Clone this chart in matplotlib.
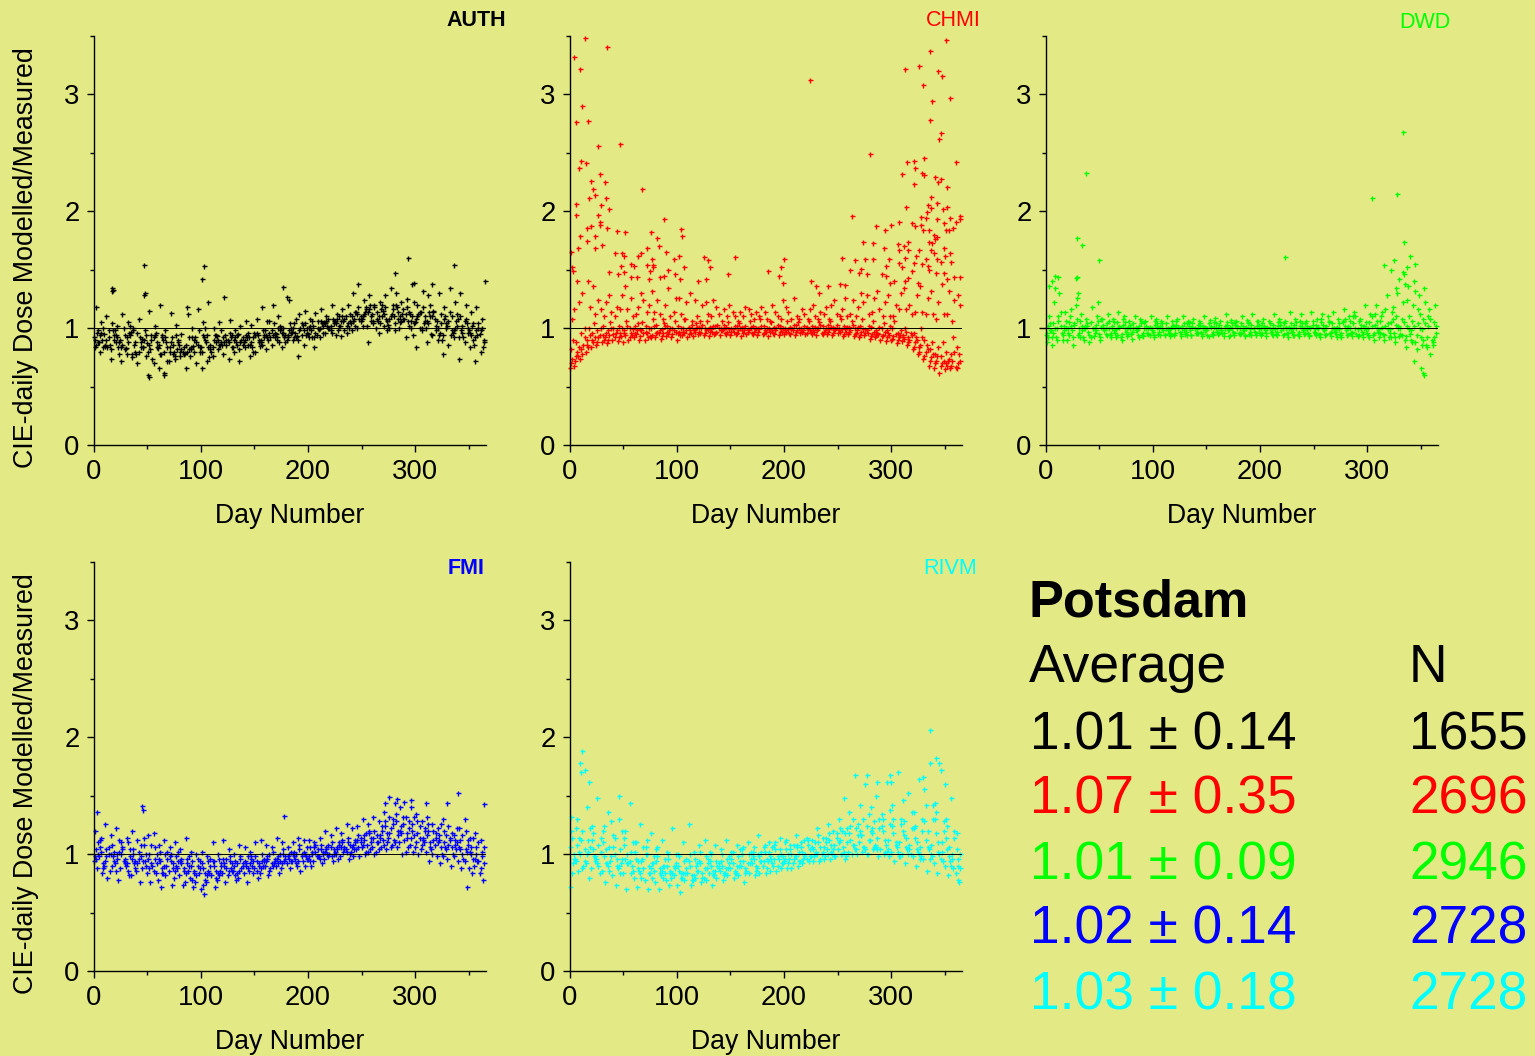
import matplotlib
matplotlib.use("Agg")
import matplotlib.pyplot as plt

plt.rcParams['font.family'] = ['Liberation Sans', 'DejaVu Sans']

BG = '#e3e985'
W, H = 1535, 1056

# the day columns that the value rows below were read at
DAYS_A = [0,5,10,15,20,25,30,35,40,45,50,55,60,65,70,75,80,85,90,95,100,105,110,115,120,125,130,135,140,145,150,155,160,165,170,175,180,185,190,195,200,205,210,215,220,225,230,235,240,245,250,255,260,265,270,275,280,285,290,295,300,305,310,315,320,325,330,335,340,345,350,355,360]
DAYS_B = [2,7,12,17,22,27,32,37,42,47,52,57,62,67,72,77,82,87,92,97,102,107,112,117,122,127,132,137,142,147,152,157,162,167,172,177,182,187,192,197,202,207,212,217,222,227,232,237,242,247,252,257,262,267,272,277,282,287,292,297,302,307,312,317,322,327,332,337,342,347,352,357,362]
DAYS_C = [1,6,11,16,21,26,31,36,41,46,51,56,61,66,71,76,81,86,91,96,101,106,111,116,121,126,131,136,141,146,151,156,161,166,171,176,181,186,191,196,201,206,211,216,221,226,231,236,241,246,251,256,261,266,271,276,281,286,291,296,301,306,311,316,321,326,331,336,341,346,351,356,361]
DAYS_D = [3,8,13,18,23,28,33,38,43,48,53,58,63,68,73,78,83,88,93,98,103,108,113,118,123,128,133,138,143,148,153,158,163,168,173,178,183,188,193,198,203,208,213,218,223,228,233,238,243,248,253,258,263,268,273,278,283,288,293,298,303,308,313,318,323,328,333,338,343,348,353,358,363]
DAYS_E = [4,9,14,19,24,29,34,39,44,49,54,59,64,69,74,79,84,89,94,99,104,109,114,119,124,129,134,139,144,149,154,159,164,169,174,179,184,189,194,199,204,209,214,219,224,229,234,239,244,249,254,259,264,269,274,279,284,289,294,299,304,309,314,319,324,329,334,339,344,349,354,359,364]
DAY_COLUMNS = [DAYS_A, DAYS_B, DAYS_C, DAYS_D, DAYS_E, DAYS_C, DAYS_E, DAYS_B]

AUTH_ROWS = [
    [.92,.88,.95,.86,.98,.90,.83,.97,.78,.91,.87,.74,.83,.90,.72,.80,.86,.79,.76,.92,
     .84,.88,.80,.93,.86,.90,.84,.95,.88,.92,.96,.85,.98,.92,.95,1.00,.90,.97,.93,1.03,
     .95,1.02,.99,1.05,1.00,1.06,1.02,1.10,1.04,1.14,1.08,1.02,1.12,1.06,1.15,1.03,1.10,1.00,1.08,1.12,
     1.05,1.14,1.00,.95,1.06,.90,1.02,.96,1.08,.92,.98,.86,.95],
    [1.18,1.05,1.10,1.32,1.02,1.12,1.05,.98,1.08,1.28,1.15,1.02,1.20,.98,1.13,1.03,.95,1.18,1.00,1.16,
     1.05,1.22,1.00,1.05,1.27,1.07,.98,1.02,1.06,1.03,1.08,1.18,1.06,1.20,1.10,1.00,1.24,1.04,1.12,1.15,
     1.08,1.13,1.16,1.10,1.20,1.12,1.16,1.20,1.30,1.38,1.24,1.28,1.18,1.22,1.28,1.34,1.30,1.22,1.25,1.38,
     1.20,1.32,1.28,1.15,1.30,1.18,1.34,1.22,1.30,1.20,1.14,1.18,1.08],
    [.84,.80,.85,.74,.88,.72,.78,.75,.70,.84,.60,.70,.66,.62,.80,.74,.76,.66,.82,.70,
     .66,.72,.76,.82,.78,.74,.80,.72,.84,.76,.80,.88,.82,.86,.90,.84,.92,.90,.76,.86,
     .92,.84,.92,.96,.98,.94,.93,.96,.98,1.00,1.02,.88,1.04,.96,1.02,1.00,.98,1.05,.92,1.00,
     .84,.98,.88,.94,.90,.78,.86,.92,.74,.88,.84,.72,.80],
    [.96,.90,.84,.98,.84,1.00,.96,.86,.92,.98,.82,.96,.78,.88,.92,.82,.80,1.12,.85,.98,
     .92,.75,.94,.86,.94,.92,.88,.90,.92,.84,.94,.98,.90,1.04,.88,.92,1.04,.96,1.00,.94,
     .98,.94,1.04,1.02,1.08,.98,1.06,1.00,1.08,1.08,1.14,1.20,1.00,1.16,1.08,1.12,1.18,1.12,1.06,.94,
     1.12,1.04,1.14,1.08,.96,1.10,.94,1.06,.98,1.04,1.02,.94,.84],
    [.88,1.00,.92,.90,.78,.94,1.02,.80,.88,.76,.94,.88,.92,.72,.86,.90,.84,.92,.80,.84,
     1.00,.82,.88,.98,.90,.84,.94,.86,.96,.80,.90,.94,1.06,.96,1.02,.88,.96,1.08,.94,1.00,
     1.06,1.00,.96,1.08,1.04,1.10,.98,1.12,1.14,1.06,1.18,1.10,1.08,1.20,.98,1.20,1.08,1.16,1.02,1.22,
     1.00,1.10,1.20,1.02,1.12,1.00,1.10,1.02,.96,1.00,.90,1.04,.90],
    [.90,.94,.86,.82,.94,.84,.92,.78,.96,.84,.80,.92,.86,.80,.84,.76,.80,.86,.84,.88,
     .80,.94,.84,.90,.92,.88,.90,.82,.90,.86,.94,.90,.94,.98,.92,.96,.94,1.00,.90,.98,
     1.00,.92,1.00,1.04,1.02,1.04,1.06,1.02,1.10,1.12,1.10,1.14,1.06,1.10,1.12,1.08,1.04,1.10,1.12,1.06,
     1.08,1.00,1.06,1.10,1.00,.94,1.06,.98,.92,1.06,.96,.92,.98],
    [.98,.84,.98,.94,.88,.82,.94,.88,.84,.94,.90,.84,.94,.84,.78,.88,.78,.82,.90,.80,
     .90,.86,.94,.88,.86,.94,.86,.92,.86,.92,.88,.92,.96,.92,.98,.94,1.00,.92,1.04,.96,
     .92,1.06,1.02,1.00,1.06,1.02,1.08,1.06,1.02,1.10,1.16,1.06,1.14,1.10,1.06,1.16,1.14,1.08,1.14,1.04,
     1.14,1.06,1.10,.98,1.04,1.04,.98,1.12,1.02,.96,1.04,1.00,.88],
    [.86,.96,.90,1.04,.92,.86,.88,1.00,.80,.90,.86,.94,.78,.92,.88,.94,.82,.80,.92,.86,
     .94,.84,.90,.86,.88,.96,.92,.88,.94,.88,.96,.86,.92,.94,1.00,.96,.98,.92,.98,1.04,
     1.02,.96,1.06,1.06,.96,1.08,1.10,1.04,1.06,1.18,1.12,1.16,1.20,1.04,1.18,1.10,1.20,1.06,1.18,1.10,
     1.10,1.18,1.04,1.14,.94,1.08,1.14,1.00,1.10,1.08,.94,.98,1.00],
]
AUTH_EXTRA_DAY = [47,103,101,177,293,336,281,365,52,66,180,299,316,17,48,18]
AUTH_EXTRA_VAL = [1.54,1.53,1.42,1.35,1.60,1.54,1.47,1.40,.58,.60,1.27,1.39,1.38,1.34,1.30,1.33]

CHMI_ROWS = [
    [.66,.72,.74,.80,.84,.86,.88,.87,.90,.89,.88,.90,.92,.90,.90,.93,.92,.91,.93,.92,
     .90,.94,.92,.93,.95,.94,.93,.95,.94,.96,.94,.95,.93,.95,.96,.94,.95,.93,.96,.94,
     .95,.96,.94,.96,.95,.97,.94,.96,.95,.94,.96,.93,.95,.93,.92,.94,.91,.92,.90,.89,
     .90,.87,.89,.86,.82,.78,.74,.68,.66,.62,.65,.66,.67],
    [.74,.80,.78,.84,.88,.92,.90,.94,.92,.96,.94,.96,.95,.98,.96,.94,.97,.96,.95,.98,
     .97,.96,.98,.97,.96,.98,.99,.97,.98,.97,.99,.98,.96,.98,.97,.99,.98,.97,.98,.99,
     .97,.99,.98,.97,.99,.98,1.00,.97,.99,.98,.97,.99,.98,.96,.97,.98,.95,.96,.94,.96,
     .93,.92,.91,.90,.88,.86,.80,.75,.72,.70,.68,.72,.70],
    [.82,.88,.96,.90,.96,.98,1.02,.98,1.00,1.02,.98,1.00,1.02,.99,1.02,1.00,1.03,.99,1.02,1.00,
     1.02,1.00,1.01,.99,1.01,1.00,1.01,1.02,1.00,1.01,1.00,1.02,1.01,.99,1.02,1.00,1.02,1.00,1.01,1.02,
     1.00,1.01,1.03,1.00,1.01,1.02,1.00,1.02,1.03,1.01,1.00,1.02,1.01,1.00,1.02,.99,1.01,.98,1.00,.98,
     1.00,.96,.94,.92,.96,.84,.90,.82,.78,.76,.80,.78,.84],
    [.90,.76,.86,1.00,1.04,.94,.92,1.05,.96,.93,1.06,.94,.98,1.05,.92,1.08,.96,1.04,.98,1.06,
     .94,1.08,.96,1.04,1.00,1.06,.97,1.03,.99,1.05,.97,1.04,.98,1.06,.99,1.08,.97,1.05,1.00,.97,
     1.06,.98,1.05,.98,1.06,.97,1.05,.98,1.06,.99,1.08,.97,1.06,.98,1.08,.96,1.06,.95,1.04,.94,
     1.06,.94,1.00,.96,.92,1.00,.86,.88,.76,.88,.72,.92,.78],
    [1.16,1.22,1.00,1.18,1.12,1.16,1.22,1.14,1.18,1.28,1.16,1.10,1.18,1.24,1.20,1.14,1.12,1.20,1.10,1.26,
     1.12,1.22,1.06,1.10,1.20,1.12,1.24,1.12,1.16,1.20,1.10,1.14,1.18,1.12,1.14,1.18,1.08,1.20,1.10,1.24,
     1.14,1.26,1.08,1.12,1.16,1.10,1.14,1.18,1.20,1.12,1.16,1.10,1.24,1.18,1.22,1.12,1.26,1.16,1.22,1.10,
     1.20,1.30,1.16,1.12,1.28,1.14,1.26,1.12,1.22,1.12,1.32,1.24,1.20],
    [.70,.76,.82,.86,.90,.88,.94,.90,.95,.92,.96,.92,.96,.93,.97,.92,.96,.93,.97,.95,
     .96,.97,.95,.98,.97,.96,.97,.96,.98,.95,.97,.96,.98,.97,.95,.97,.96,.99,.95,.97,
     .98,.95,.97,.98,.96,.95,.98,.95,.97,.96,.98,.95,.97,.95,.94,.96,.93,.94,.93,.92,
     .91,.90,.92,.88,.84,.80,.76,.72,.70,.68,.70,.68,.66],
    [.68,.84,.92,.94,.92,1.00,.96,1.00,.98,1.00,1.02,.99,1.04,.96,1.00,1.02,.98,1.02,1.00,.97,
     1.00,.98,1.03,1.01,1.03,.99,1.02,1.00,1.03,.99,1.02,1.00,1.02,1.01,1.00,1.02,1.00,.98,1.03,1.00,
     .99,1.03,1.00,1.02,.98,1.01,1.03,1.00,1.01,1.03,.99,1.01,1.03,1.01,.99,1.02,.97,1.01,.97,1.02,
     .95,.98,.97,.94,.90,.92,.82,.78,.84,.72,.74,.80,.72],
    [1.08,1.40,1.30,1.40,1.36,1.24,1.10,1.28,1.10,1.16,1.36,1.26,1.12,1.30,1.14,1.32,1.24,1.08,1.34,1.14,
     1.26,1.08,1.30,1.24,1.06,1.22,1.10,1.18,1.06,1.10,1.14,1.06,1.10,1.16,1.08,1.10,1.14,1.06,1.14,1.08,
     1.18,1.08,1.10,1.16,1.08,1.20,1.08,1.12,1.08,1.24,1.10,1.26,1.12,1.10,1.30,1.28,1.14,1.32,1.10,1.28,
     1.10,1.16,1.34,1.20,1.14,1.36,1.12,1.32,1.08,1.38,1.12,1.06,1.28],
]
CHMI_EXTRA_DAY = [14,4,10,35,12,6,17,27,47,11,15,9,28,33,20,22,24,18,34,68,6,29,37,6,27,28,28,88,16,20,35,44,52,76,104,105,82,10,24,16,83,72,30,8,24,1,42,49,67,64,51,90,102,97,77,154,125,129,200,197,185,195,199,148,131,107,57,72,78,78,60,48,2,3,37,75,92,88,98,45,51,57,63,74,84,103,127,120,
    351,336,313,326,344,347,224,330,355,338,336,346,345,280,331,321,315,360,310,329,331,322,341,346,344,321,352,337,343,314,334,337,348,352,333,263,328,332,355,364,364,360,343,307,319,300,286,322,328,294,330,335,349,351,354,358,274,283,306,316,312,307,293,316,326,335,338,340,343,341,349,337,340,355,350,266,276,283,298,313,323,307,321,329,332,356,343,346,254,262,272,295,310,319,334,335,349,342,352,364,359,291,295,270,277,313,316,299,303,325,225,230,241,233,252,257]
CHMI_EXTRA_VAL = [3.48,3.32,3.22,3.41,2.90,2.76,2.77,2.56,2.58,2.43,2.41,2.37,2.32,2.25,2.26,2.19,2.14,2.11,2.11,2.19,2.06,2.05,2.02,1.97,1.97,1.91,1.88,1.93,1.86,1.87,1.86,1.83,1.82,1.82,1.85,1.79,1.77,1.79,1.79,1.75,1.70,1.69,1.71,1.69,1.69,1.65,1.64,1.64,1.64,1.62,1.62,1.65,1.62,1.59,1.59,1.61,1.61,1.58,1.59,1.52,1.49,1.45,1.39,1.46,1.52,1.52,1.55,1.54,1.54,1.52,1.53,1.53,1.52,1.49,1.48,1.49,1.50,1.45,1.46,1.46,1.48,1.44,1.44,1.42,1.44,1.42,1.42,1.40,
    3.47,3.37,3.22,3.24,3.20,3.16,3.12,3.08,2.97,2.94,2.78,2.67,2.62,2.49,2.46,2.43,2.42,2.42,2.32,2.33,2.31,2.37,2.29,2.28,2.25,2.23,2.21,2.12,2.07,2.04,2.05,2.03,2.02,2.04,1.99,1.96,1.95,1.94,1.94,1.96,1.93,1.91,1.93,1.91,1.90,1.88,1.87,1.87,1.88,1.84,1.84,1.84,1.90,1.84,1.84,1.86,1.74,1.73,1.72,1.74,1.70,1.67,1.69,1.67,1.67,1.74,1.73,1.80,1.78,1.76,1.69,1.67,1.64,1.64,1.62,1.58,1.59,1.59,1.59,1.60,1.62,1.56,1.56,1.55,1.59,1.57,1.59,1.57,1.60,1.50,1.51,1.53,1.52,1.49,1.53,1.50,1.47,1.47,1.42,1.44,1.44,1.46,1.45,1.47,1.46,1.40,1.43,1.39,1.40,1.39,1.40,1.36,1.36,1.30,1.38,1.37]

DWD_ROWS = [
    [.94,.98,.92,.96,.90,.98,.94,.92,.97,.93,.95,.98,.94,.96,.92,.97,.95,.98,.94,.96,
     .97,.95,.98,.96,.94,.97,.95,.98,.96,.97,.98,.95,.97,.96,.98,.97,.96,.98,.95,.97,
     .96,.98,.97,.95,.98,.96,.97,.95,.98,.96,.97,.95,.98,.96,.97,.94,.98,.96,.95,.97,
     .96,.94,.97,.95,.92,.96,.93,.90,.95,.88,.92,.86,.90],
    [1.02,1.04,1.06,1.02,1.05,1.03,1.06,1.02,1.05,1.03,1.01,1.04,1.02,1.05,1.03,1.01,1.04,1.02,1.05,1.01,
     1.03,1.02,1.04,1.01,1.03,1.02,1.04,1.01,1.03,1.02,1.04,1.01,1.03,1.02,1.01,1.03,1.04,1.01,1.03,1.02,
     1.04,1.01,1.03,1.02,1.04,1.01,1.03,1.02,1.04,1.01,1.03,1.05,1.02,1.04,1.01,1.05,1.02,1.04,1.06,1.02,
     1.05,1.03,1.06,1.02,1.05,1.03,1.08,1.02,1.06,1.04,1.08,1.02,1.05],
    [.88,.86,1.00,.90,1.00,.86,1.00,1.00,.88,1.00,.90,1.00,.92,.99,.90,1.00,.91,1.00,.93,1.00,
     .92,1.00,.94,.99,1.00,.93,1.00,.94,.99,.93,1.00,.94,1.00,.93,.99,.94,1.00,.93,.99,.94,
     1.00,.93,.99,.94,1.00,.92,1.00,.93,1.00,.94,.99,.92,1.00,.93,.99,.92,1.00,.93,.99,.92,
     1.00,.90,.99,.90,.99,.88,1.00,.84,.98,.82,.99,.84,.86],
    [1.10,1.22,1.30,1.14,1.10,1.20,1.12,1.08,1.18,1.10,1.08,1.12,1.08,1.14,1.10,1.06,1.10,1.08,1.06,1.10,
     1.08,1.06,1.10,1.06,1.08,1.10,1.06,1.08,1.06,1.10,1.07,1.09,1.06,1.12,1.07,1.06,1.10,1.07,1.12,1.06,
     1.08,1.06,1.12,1.08,1.06,1.14,1.08,1.12,1.06,1.14,1.08,1.12,1.10,1.14,1.08,1.16,1.10,1.14,1.08,1.20,
     1.12,1.20,1.10,1.28,1.14,1.30,1.22,1.36,1.20,1.28,1.34,1.16,1.20],
    [.98,1.34,1.14,1.00,1.16,1.26,.98,1.02,1.00,1.22,1.00,1.06,.98,1.02,1.05,1.00,.98,1.06,1.00,.98,
     1.04,1.00,.98,1.02,1.00,.98,1.05,1.00,1.02,.98,1.01,1.00,.98,1.05,1.00,1.02,.98,1.05,1.00,.99,
     1.02,1.00,.99,1.05,1.00,.99,1.05,1.00,.99,1.06,1.00,.99,1.06,1.00,.99,1.08,1.00,1.10,1.00,.99,
     1.10,1.00,1.14,.99,1.18,1.00,1.46,.99,1.40,1.00,1.22,.78,.96],
    [.96,.92,.90,.94,.96,.92,.96,.90,.94,.96,.92,.95,.96,.92,.95,.93,.97,.94,.96,.95,
     .94,.97,.95,.93,.96,.95,.97,.94,.96,.95,.94,.97,.95,.96,.93,.96,.95,.94,.97,.96,
     .94,.96,.95,.97,.94,.96,.94,.97,.95,.93,.96,.95,.94,.97,.95,.96,.94,.97,.93,.95,
     .94,.96,.92,.94,.96,.92,.95,.93,.90,.94,.86,.92,.88],
    [1.04,1.00,1.02,1.06,1.02,1.08,1.02,1.04,1.00,1.06,1.03,1.00,1.05,1.01,1.00,1.03,1.01,1.04,1.02,1.00,
     1.01,1.04,1.00,1.03,1.01,1.04,1.02,1.00,1.04,1.01,1.02,1.04,1.00,1.03,1.04,1.00,1.02,1.04,1.00,1.03,
     1.01,1.04,1.00,1.03,1.01,1.04,1.00,1.04,1.02,1.03,1.01,1.03,1.05,1.00,1.04,1.02,1.06,1.00,1.03,1.05,
     1.02,1.06,1.01,1.04,1.08,1.02,1.05,1.10,1.02,1.12,1.04,1.08,1.02],
    [.92,.96,1.10,.98,.94,1.04,.92,1.00,.92,.98,1.08,.94,1.00,.94,1.08,.95,1.00,.92,1.00,.94,
     1.06,.94,1.00,.95,1.06,1.00,.94,1.04,.96,1.00,.93,1.05,.96,1.00,.94,1.05,.96,1.00,.94,1.06,
     .96,1.00,.94,1.05,.95,1.00,.94,1.06,.96,1.00,.94,1.08,.95,1.00,.92,1.06,.95,1.10,.94,1.00,
     .92,1.12,.96,1.16,.92,1.10,.94,1.24,.88,1.16,.90,1.10,.92],
]
DWD_EXTRA_DAY = [38,333,328,304,223,29,34,334,29,28,50,6,9,12,3,30,325,340,337,333,345,316,322,330,345,335,327,350,344,352,353]
DWD_EXTRA_VAL = [2.33,2.68,2.15,2.11,1.61,1.77,1.71,1.74,1.44,1.43,1.58,1.40,1.45,1.44,1.36,1.30,1.58,1.62,1.52,1.48,1.55,1.54,1.50,1.42,1.32,1.38,1.34,.66,.72,.62,.60]

FMI_ROWS = [
    [.94,.98,.90,.86,.92,.88,.90,.82,.86,.88,.84,.90,.78,.84,.86,.80,.82,.76,.80,.76,
     .70,.76,.82,.78,.84,.82,.86,.80,.84,.86,.88,.84,.90,.88,.90,.88,.92,.94,.90,.94,
     .96,.94,.98,.96,1.00,1.02,.98,1.04,1.02,1.04,1.06,1.08,1.06,1.10,1.12,1.14,1.12,1.10,1.12,1.08,
     1.06,1.04,1.02,1.04,.98,1.00,.96,1.00,.94,.96,.88,.90,.84],
    [1.04,1.02,.98,1.08,1.00,1.04,1.10,1.00,1.02,1.08,1.00,.96,1.02,1.00,.94,.98,.92,.96,.94,.90,
     .88,.94,.90,.96,.92,.98,.94,.96,.92,.98,.94,1.00,.96,1.02,.98,1.04,1.00,1.02,1.04,1.00,
     1.06,1.02,1.08,1.04,1.10,1.06,1.10,1.14,1.08,1.16,1.12,1.18,1.20,1.16,1.24,1.22,1.28,1.24,1.18,1.26,
     1.18,1.14,1.20,1.12,1.16,1.10,1.14,1.08,1.12,1.04,1.06,1.00,1.02],
    [1.20,1.12,1.26,1.16,1.22,1.10,1.14,1.20,1.12,1.38,1.16,1.18,1.08,1.12,1.06,1.10,1.04,1.14,1.02,1.00,
     1.02,.98,1.10,1.00,1.12,1.04,1.00,1.08,1.06,1.02,1.10,1.12,1.08,1.06,1.14,1.10,1.06,1.10,1.14,1.12,
     1.12,1.10,1.14,1.20,1.16,1.22,1.18,1.26,1.22,1.24,1.30,1.26,1.32,1.28,1.36,1.32,1.44,1.40,1.32,1.40,
     1.34,1.28,1.32,1.26,1.22,1.30,1.24,1.16,1.22,1.30,1.14,1.18,1.12],
    [.88,.84,.80,.98,.78,.94,.82,.92,.76,.94,.76,.84,.72,.90,.74,.88,.74,.86,.72,.84,
     .66,.84,.72,.86,.76,.88,.78,.88,.76,.90,.80,.90,.82,.92,.84,.94,.88,.96,.86,.98,
     .90,.98,.92,1.00,.94,.96,1.02,.96,1.04,.98,1.00,1.04,1.02,1.06,1.04,1.08,1.06,1.00,1.06,1.02,
     1.00,1.10,.94,1.08,.92,1.06,.90,1.04,.88,1.02,.84,.94,.78],
    [1.00,.92,1.06,.94,1.02,.96,.98,.88,1.08,1.00,.92,1.00,.88,.96,.92,.94,.86,.90,.86,.94,
     .78,.90,.86,.92,.88,.92,.84,.92,.88,.94,.92,.96,.86,.96,.94,.98,.94,1.00,.98,1.06,
     1.00,1.04,1.02,1.08,1.00,1.10,1.06,1.08,1.12,1.10,1.18,1.14,1.10,1.20,1.18,1.30,1.20,1.32,1.28,1.16,
     1.24,1.20,1.10,1.18,1.06,1.16,1.06,1.22,1.00,1.12,.96,1.10,.92],
    [.98,1.06,.94,1.00,.86,1.00,.92,.96,.92,.94,.96,.86,.96,.90,.98,.86,.94,.84,.90,.82,
     .92,.82,.94,.84,.96,.86,.90,.86,.94,.92,.98,.88,.94,.92,.96,.92,.98,1.00,.94,1.02,
     .98,1.06,.96,1.02,1.06,1.00,1.06,1.02,1.06,1.12,1.08,1.02,1.14,1.04,1.08,1.18,1.10,1.20,1.02,1.14,
     1.10,1.08,1.16,1.00,1.10,.98,1.08,.98,1.06,.94,1.02,.96,.88],
    [1.10,.88,1.00,1.02,1.12,.92,1.04,.94,.98,.90,1.08,.92,.84,1.02,.88,1.02,.88,.98,.84,.88,
     .84,.96,.80,.90,.96,.86,.92,.90,.98,.84,.90,.94,1.00,.94,1.00,.96,1.02,.92,1.00,.96,
     1.02,.98,1.00,.98,1.04,1.08,1.04,1.00,1.10,1.14,1.02,1.10,1.16,1.24,1.10,1.26,1.16,1.26,1.22,1.32,
     1.14,1.22,1.06,1.14,1.26,1.04,1.18,1.10,1.16,1.08,1.14,.94,1.06],
    [.96,1.14,1.04,.90,.96,1.06,.86,1.04,.96,1.14,.88,1.06,.94,.82,1.00,.90,.96,.92,.78,.96,
     .74,.86,.94,.82,.90,.94,.82,.98,.90,.96,.86,.94,.98,.90,.92,1.00,.96,.98,1.08,.90,
     .94,1.08,1.04,1.06,.98,1.04,1.12,1.10,.98,1.06,1.16,1.20,1.00,1.14,1.28,1.06,1.34,1.18,1.14,1.20,
     1.28,1.12,1.26,1.20,1.12,1.20,1.12,1.12,1.04,1.20,1.00,1.06,.98],
]
FMI_EXTRA_DAY = [3,45,276,283,340,364,178,272,296,310,290,330,348]
FMI_EXTRA_VAL = [1.36,1.41,1.49,1.47,1.52,1.43,1.33,1.44,1.46,1.44,1.45,1.44,.72]

RIVM_ROWS = [
    [1.06,.96,1.00,.92,.88,.96,.86,.92,.82,.88,.84,.92,.80,.86,.78,.84,.76,.82,.78,.80,
     .74,.80,.84,.78,.86,.80,.84,.82,.86,.84,.88,.84,.90,.86,.92,.88,.90,.94,.90,.96,
     .94,.96,.98,.94,1.00,.98,1.02,1.00,1.04,1.00,1.04,1.06,1.02,1.08,1.10,1.06,1.12,1.08,1.04,1.08,
     1.02,1.06,1.00,1.04,.98,1.02,.96,1.04,.92,1.00,.90,.94,.84],
    [1.14,1.08,1.20,1.12,1.04,1.08,.98,1.06,1.00,1.04,.96,1.02,.96,.94,1.00,.92,.98,.90,.96,.90,
     .86,.94,.90,.96,.92,.98,.90,.94,.90,.96,.92,.98,.94,1.00,.96,.98,1.02,.98,1.04,1.00,
     1.04,1.00,1.06,1.02,1.08,1.04,1.10,1.06,1.12,1.08,1.12,1.18,1.12,1.22,1.16,1.24,1.18,1.14,1.20,1.12,
     1.18,1.10,1.16,1.08,1.14,1.06,1.12,1.08,1.18,1.10,1.04,1.00,.96],
    [1.32,1.22,1.70,1.40,1.24,1.48,1.20,1.36,1.16,1.30,1.14,1.44,1.10,1.26,1.06,1.18,1.04,1.12,1.02,1.22,
     1.00,1.10,1.26,1.02,1.08,1.12,1.02,1.08,1.04,1.12,1.02,1.08,1.04,1.10,1.02,1.16,1.06,1.10,1.08,1.14,
     1.10,1.08,1.16,1.10,1.14,1.12,1.22,1.14,1.26,1.20,1.30,1.48,1.36,1.68,1.42,1.60,1.40,1.50,1.34,1.62,
     1.42,1.70,1.46,1.52,1.36,1.64,1.56,1.78,1.44,1.72,1.30,1.48,1.18],
    [.92,.86,.90,.80,.98,.84,.76,.94,.74,.92,.70,.90,.72,.96,.70,.92,.70,.90,.74,.88,
     .68,.84,.74,.90,.76,.88,.74,.90,.78,.88,.80,.90,.76,.92,.82,.94,.84,.96,.86,.92,
     .88,.92,.90,.96,.94,.98,.94,.98,.96,.98,1.00,.98,1.00,1.00,1.02,1.00,1.04,.98,1.00,.98,
     .94,.98,.92,1.00,.90,.98,.86,.98,.84,.94,.82,.88,.76],
    [1.00,1.02,.94,1.06,.98,1.02,.92,.98,.90,.96,.92,.86,.94,.88,.90,.86,.88,.84,.86,.92,
     .80,.88,.82,.86,.84,.92,.86,.88,.84,.92,.86,.94,.88,.96,.90,.94,.96,.92,.98,.92,
     1.00,.96,1.02,.98,1.04,1.00,1.06,1.10,1.08,1.14,1.20,1.10,1.30,1.16,1.30,1.12,1.28,1.22,1.12,1.26,
     1.08,1.30,1.06,1.22,1.04,1.30,1.20,1.42,1.02,1.28,.98,1.14,.88],
    [1.20,.94,1.12,1.00,1.12,.92,1.10,.90,1.06,.90,1.08,.94,1.02,.84,1.00,.88,.94,.86,.90,.84,
     .90,.84,.94,.82,.94,.88,.94,.86,.94,.88,.96,.90,1.00,.92,.98,1.00,.94,1.02,.96,1.04,
     .96,1.04,.98,1.06,.96,1.06,1.00,1.02,1.00,1.04,1.10,1.02,1.18,1.04,1.20,1.04,1.20,1.06,1.24,1.02,
     1.24,1.02,1.20,1.00,1.22,1.00,1.28,.96,1.30,.96,1.14,.90,1.04],
    [.96,1.14,1.04,1.22,.94,1.14,1.04,1.28,.96,1.20,1.00,1.10,.88,1.06,.84,.98,.84,.96,.84,1.00,
     .84,.96,.78,.92,.80,.96,.82,.92,.82,.98,.84,1.04,.84,1.02,.86,1.02,.88,1.06,.90,.98,
     .92,1.08,.94,1.12,.98,1.10,.96,1.14,1.02,1.18,1.00,1.22,1.08,1.26,1.06,1.34,1.06,1.30,1.02,1.38,
     1.10,1.26,1.14,1.36,1.10,1.20,1.06,1.30,1.10,1.20,1.06,1.20,1.00],
    [.84,1.30,.88,1.02,1.18,.90,1.24,.86,1.14,.84,1.20,.84,1.10,.80,1.12,.80,1.06,.80,1.00,.82,
     .98,.78,1.00,.80,1.02,.78,1.00,.80,1.00,.82,1.02,.82,1.06,.84,1.06,.84,1.08,.86,1.10,.88,
     1.12,.88,1.08,.92,1.12,.94,1.16,.96,1.18,.98,1.22,.96,1.24,1.04,1.16,1.00,1.22,1.04,1.30,1.04,
     1.30,.98,1.28,1.04,1.24,.96,1.42,1.00,1.36,1.02,1.24,.96,.90],
]
RIVM_EXTRA_DAY = [12,14,336,342,345,0,299,277,287,300,330,350,362,10,18,46]
RIVM_EXTRA_VAL = [1.88,1.72,2.06,1.82,1.78,.72,1.68,1.68,1.62,1.62,1.66,1.60,.78,1.78,1.62,1.50]

PANELS = [
    ('AUTH', 'black', 'bold', AUTH_ROWS, AUTH_EXTRA_DAY, AUTH_EXTRA_VAL),
    ('CHMI', 'red', 'normal', CHMI_ROWS, CHMI_EXTRA_DAY, CHMI_EXTRA_VAL),
    ('DWD', '#00ff00', 'normal', DWD_ROWS, DWD_EXTRA_DAY, DWD_EXTRA_VAL),
    ('FMI', 'blue', 'bold', FMI_ROWS, FMI_EXTRA_DAY, FMI_EXTRA_VAL),
    ('RIVM', 'cyan', 'normal', RIVM_ROWS, RIVM_EXTRA_DAY, RIVM_EXTRA_VAL),
]
AVERAGES = ['1.01 ± 0.14', '1.07 ± 0.35', '1.01 ± 0.09', '1.02 ± 0.14', '1.03 ± 0.18']
COUNTS = ['1655', '2696', '2946', '2728', '2728']
COLOURS = ['black', 'red', '#00ff00', 'blue', 'cyan']

# pixel boxes of the panels: left, right, bottom, top; label position
BOXES = [(93.5, 486, 445, 36), (569.5, 962, 445, 36), (1045.5, 1438, 445, 36),
         (93.5, 486, 971, 562), (569.5, 962, 971, 562)]
LABEL_POS = [(476, 20), (953, 20), (1425, 22), (466, 569), (950, 569)]


def ftext(x, y, s, **kw):
    # x, y in picture pixels
    kw.setdefault('va', 'center')
    plt.gcf().text(x / W, 1 - y / H, s, **kw)


fig = plt.figure(figsize=(W / 100, H / 100), dpi=100, facecolor=BG)

for i, (name, col, weight, rows, ex_d, ex_v) in enumerate(PANELS):
    l, r, b, t = BOXES[i]
    ax = fig.add_axes([l / W, 1 - b / H, (r - l) / W, (b - t) / H], facecolor=BG)
    xs, ys = list(ex_d), list(ex_v)
    for j, row in enumerate(rows):
        xs += DAY_COLUMNS[j][:len(row)]
        ys += row
    ax.plot(xs, ys, ls='none', marker='+', ms=3.6, mew=1.0, color=col, clip_on=False, zorder=2)
    ax.axhline(1, color='black', lw=0.7, zorder=3)
    ax.set_xlim(0, 366)
    ax.set_ylim(0, 3.5)
    ax.set_xticks([0, 100, 200, 300])
    ax.set_xticks([50, 150, 250, 350], minor=True)
    ax.set_yticks([0, 1, 2, 3])
    ax.set_yticks([0.5, 1.5, 2.5, 3.5], minor=True)
    ax.tick_params(which='major', length=5, width=1, labelsize=19.8, pad=5)
    ax.tick_params(which='minor', length=3, width=1)
    for s in ['top', 'right']:
        ax.spines[s].set_visible(False)
    for s in ['left', 'bottom']:
        ax.spines[s].set_linewidth(1)
    ftext((l + r) / 2 - 0.5, b + 71, 'Day Number', ha='center', fontsize=19.2)
    if i in (0, 3):
        ftext(26, (b + t) / 2 + 17, 'CIE-daily Dose Modelled/Measured', rotation=90,
              ha='center', fontsize=19.3)
    ftext(LABEL_POS[i][0], LABEL_POS[i][1], name, ha='center', color=col, weight=weight, fontsize=15.5)

ftext(1029, 603, 'Potsdam', weight='bold', fontsize=37.6)
ftext(1029, 668, 'Average', fontsize=38.5)
ftext(1409, 668, 'N', fontsize=38.5)
for k in range(5):
    ftext(1030, 735 + k * 65, AVERAGES[k], color=COLOURS[k], fontsize=38.3)
    ftext(1409, 735 + k * 65, COUNTS[k], color=COLOURS[k], fontsize=38.3)

fig.savefig('out.png', dpi=100, facecolor=BG)
